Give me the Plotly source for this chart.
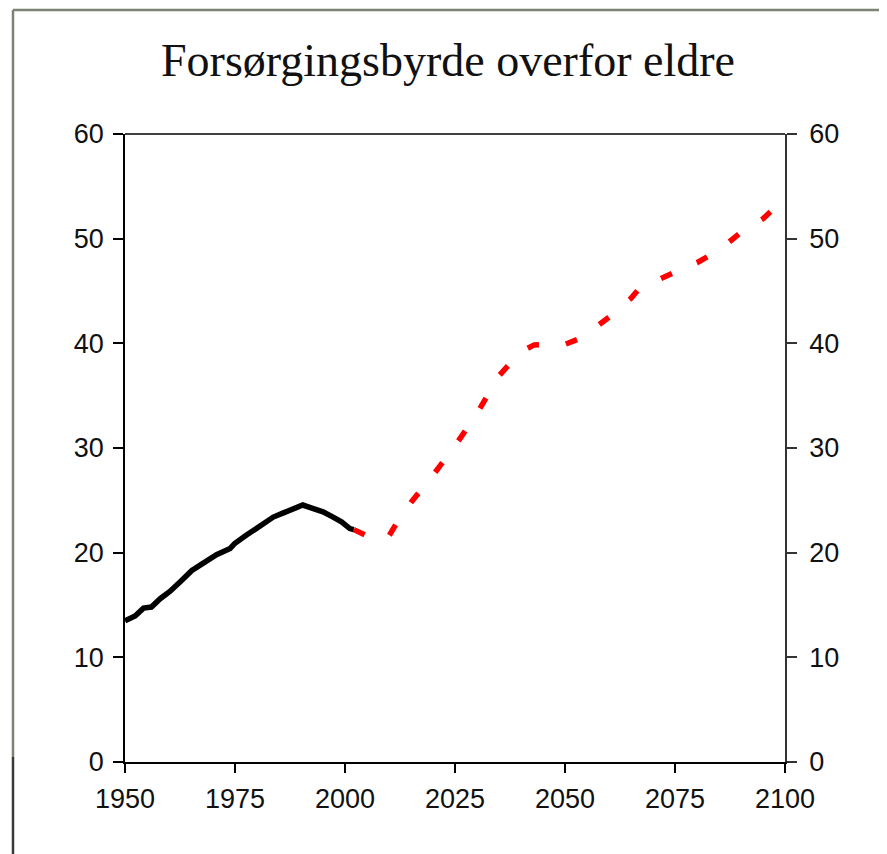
import plotly.graph_objects as go

# Historical series (black)
hist_years = [1950, 1952.3, 1954.2, 1956, 1958, 1960.2, 1962.5, 1965.2, 1967.8, 1970.8,
              1973.9, 1975, 1977.7, 1980.7, 1983.7, 1986, 1988.3, 1990.4, 1992.8, 1995,
              1997.3, 1999.2, 2001.1, 2002]
hist_values = [13.5, 13.95, 14.7, 14.8, 15.6, 16.3, 17.2, 18.3, 19.0, 19.8,
               20.4, 20.9, 21.7, 22.5, 23.4, 23.8, 24.2, 24.55, 24.2, 23.9,
               23.4, 22.95, 22.3, 22.2]

# Projection (red dashed)
proj_years = [2002, 2005, 2008, 2010, 2012, 2015, 2020, 2025, 2030, 2035, 2038, 2040,
              2043, 2046, 2050, 2053, 2055, 2060, 2065, 2067, 2070, 2075, 2080, 2085,
              2090, 2095, 2098]
proj_values = [22.2, 21.6, 21.2, 21.6, 23.0, 24.8, 27.4, 30.2, 33.3, 36.9, 38.3, 39.2,
               39.85, 39.85, 39.9, 40.4, 40.9, 42.5, 44.3, 45.3, 45.9, 46.8, 47.7, 48.9,
               50.6, 51.9, 53.1]

x_ticks = [1950, 1975, 2000, 2025, 2050, 2075, 2100]
y_ticks = [0, 10, 20, 30, 40, 50, 60]
title_text = "Forsørgingsbyrde overfor eldre"

# page offset from default body margin (8px)
OFF = 8
W, H = 887 - OFF, 854 - OFF
L, T = 125 - OFF, 134 - OFF
R, B = 887 - 785, 854 - 762
PW, PH = W - L - R, H - T - B

def px_x(p):
    return (p - OFF - L) / PW

def px_y(p):
    return (H - B - (p - OFF)) / PH

fig = go.Figure()
fig.add_trace(go.Scatter(x=proj_years, y=proj_values, mode="lines",
                         line=dict(color="#ff0000", width=5.5, dash="12px,27px"),
                         showlegend=False))
fig.add_trace(go.Scatter(x=hist_years, y=hist_values, mode="lines",
                         line=dict(color="#000000", width=5.5),
                         showlegend=False))
fig.add_trace(go.Scatter(x=[1950], y=[0], yaxis="y2", mode="markers",
                         marker=dict(opacity=0), showlegend=False, hoverinfo="skip"))

tickfont = dict(family="Liberation Sans, Arial, sans-serif", size=27, color="#111111")

fig.update_layout(
    width=W, height=H,
    margin=dict(l=L, r=R, t=T, b=B),
    paper_bgcolor="white", plot_bgcolor="white",
    title=dict(text=title_text, xref="container", x=(448 - OFF) / W, xanchor="center",
               yref="container", y=1 - (60 - OFF) / H, yanchor="middle",
               font=dict(family="Liberation Serif, Times New Roman, serif", size=46, color="#111111")),
    xaxis=dict(range=[1950, 2100], tickvals=x_ticks, ticktext=[str(v) for v in x_ticks],
               showgrid=False, zeroline=False, showline=True, linecolor="black", linewidth=1.5,
               ticks="outside", ticklen=9, tickwidth=1.5, tickcolor="black",
               tickfont=tickfont, ticklabelstandoff=3),
    yaxis=dict(range=[0, 60], tickvals=y_ticks, showgrid=False, zeroline=False,
               showline=True, linecolor="black", linewidth=1.5,
               ticks="outside", ticklen=10, tickwidth=1.5, tickcolor="black",
               tickfont=tickfont, ticklabelstandoff=4),
    yaxis2=dict(range=[0, 60], tickvals=y_ticks, overlaying="y", side="right",
                showgrid=False, zeroline=False, showline=True, linecolor="#333333", linewidth=1.5,
                ticks="outside", ticklen=10, tickwidth=1.5, tickcolor="#333333",
                tickfont=tickfont, ticklabelstandoff=7),
    shapes=[
        dict(type="line", xref="paper", yref="paper", x0=0, x1=1, y0=1, y1=1,
             line=dict(color="black", width=1.5)),
        dict(type="line", xref="paper", yref="paper", x0=px_x(13), x1=px_x(900),
             y0=px_y(10), y1=px_y(10), line=dict(color="#7c8274", width=2.5)),
        dict(type="line", xref="paper", yref="paper", x0=px_x(13), x1=px_x(13),
             y0=px_y(10), y1=px_y(757), line=dict(color="#7c8274", width=2.5)),
        dict(type="line", xref="paper", yref="paper", x0=px_x(13), x1=px_x(13),
             y0=px_y(757), y1=px_y(860), line=dict(color="#3a3a3a", width=2.5)),
    ],
)

fig.write_html("out.html")
